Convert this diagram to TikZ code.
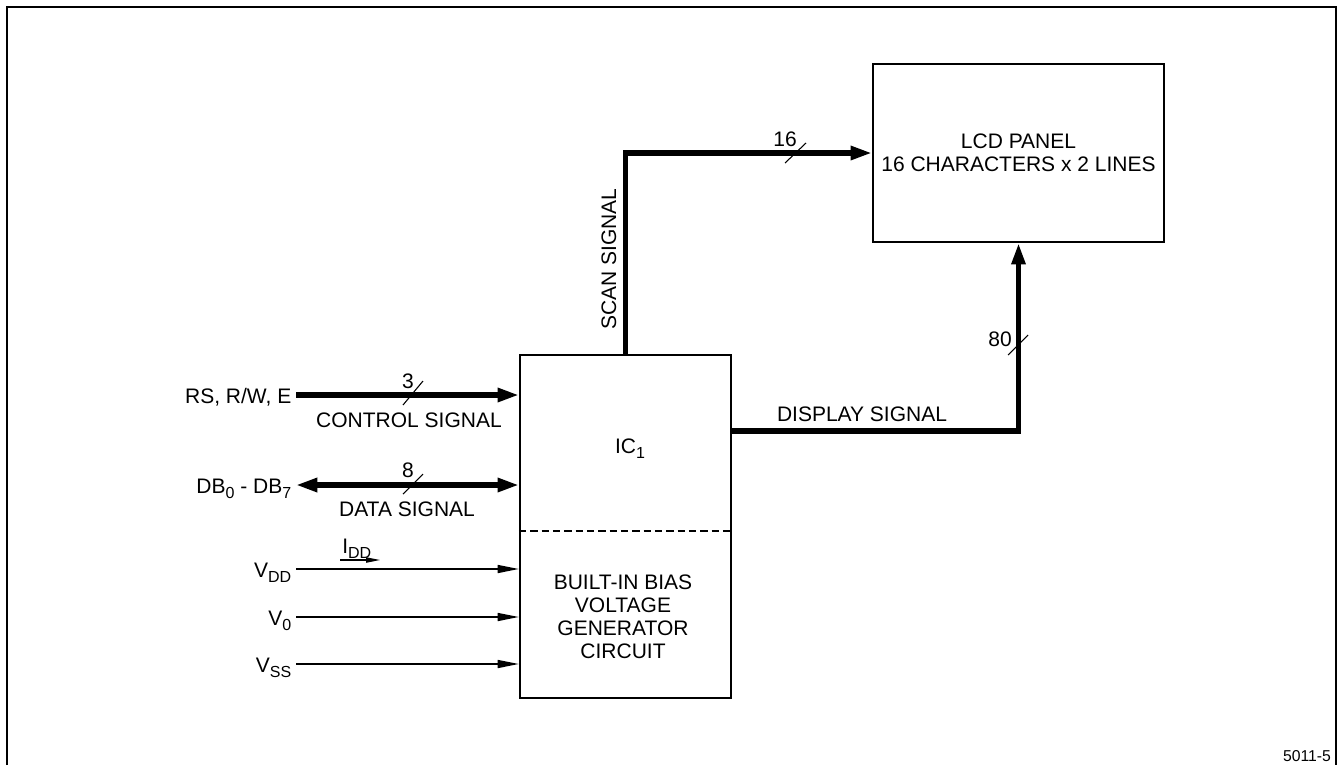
\documentclass[tikz,border=0pt]{standalone}
\usepackage{fontspec}
\setmainfont{Liberation Sans}
\usetikzlibrary{arrows.meta,positioning}
\newcommand\lowidx[1]{\raisebox{-4.3pt}{\fontsize{12}{12}\selectfont #1}}
\tikzset{
  blockbox/.style={draw,line width=1.7pt,inner sep=0pt,align=center},
  bus/.style={line width=3.8pt,-{Triangle[length=16pt,width=10pt]}},
  busboth/.style={line width=3.8pt,{Triangle[length=16pt,width=10pt]}-{Triangle[length=16pt,width=10pt]}},
  wire/.style={line width=1.2pt,-{Triangle[length=16pt,width=6pt]}},
  pinlabel/.style={anchor=east,text height=12pt,text depth=0pt},
  tick/.style={line width=0.8pt},
}
\begin{document}
\begin{tikzpicture}[x=0.75pt,y=-0.75pt,font=\fontsize{15.75}{17.25}\selectfont]
\useasboundingbox (0,0) rectangle (1338,765);
% frame
\draw[line width=1.2pt] (7,765) -- (7,7) -- (1336,7) -- (1336,765);

% blocks
\node[blockbox,minimum width=158.25pt,minimum height=257.25pt] (ic) at (625.5,526.5) {};
\node[blockbox,minimum width=218.25pt,minimum height=133.5pt] (lcd) at (1018.5,153)
  {LCD PANEL\\16 CHARACTERS x 2 LINES};
\draw[dashed,line width=0.8pt,dash pattern=on 5.5pt off 3pt] (ic.west |- 0,531) -- (ic.east |- 0,531);
\node[anchor=base] (icname) at (630,453) {IC\lowidx{1}};
\node[align=center] (bias) at (623,617) {BUILT-IN BIAS\\VOLTAGE\\GENERATOR\\CIRCUIT};

% inputs
\node[pinlabel] (rs) at (296,395) {RS, R/W, E};
\node[pinlabel] (db) at (296,485) {DB\lowidx{0} - DB\lowidx{7}};
\node[pinlabel] (vdd) at (296,569) {V\lowidx{DD}};
\node[pinlabel] (vo) at (296,617) {V\lowidx{0}};
\node[pinlabel] (vss) at (296,664) {V\lowidx{SS}};
\draw[bus] (rs.east) -- (rs.east -| ic.west);
\draw[busboth] (db.east) -- (db.east -| ic.west);
\draw[wire] (vdd.east) -- (vdd.east -| ic.west);
\draw[wire] (vo.east) -- (vo.east -| ic.west);
\draw[wire] (vss.east) -- (vss.east -| ic.west);

\node (ctrl) at (409,420.5) {CONTROL SIGNAL};
\node (data) at (407,509.5) {DATA SIGNAL};
\node (nctrl) at (408,381.5) {3};
\node (ndata) at (408,470) {8};
\draw[tick] (403,405) -- (423,381);
\draw[tick] (403,494) -- (423,474);

\node[anchor=base west,inner sep=0pt] (idd) at (342,553) {I\lowidx{DD}};
\draw[line width=0.8pt,-{Triangle[length=10.5pt,width=4pt]}] (idd.base west) ++(-2,7) -- ++(40,0);

% outputs
\draw[bus] (ic.north) |- (lcd.west);
\draw[bus] (ic.east |- 0,431) -| (lcd.south);
\node[rotate=90] (scan) at (609,259) {SCAN SIGNAL};
\node (disp) at (862,414) {DISPLAY SIGNAL};
\node (nscan) at (785,139.5) {16};
\node (ndisp) at (1000,339.5) {80};
\draw[tick] (785,163) -- (806,143);
\draw[tick] (1008,355) -- (1028,335);

\node[font=\fontsize{11.8}{12}\selectfont] (fig) at (1307,756) {5011-5};
\end{tikzpicture}
\end{document}
